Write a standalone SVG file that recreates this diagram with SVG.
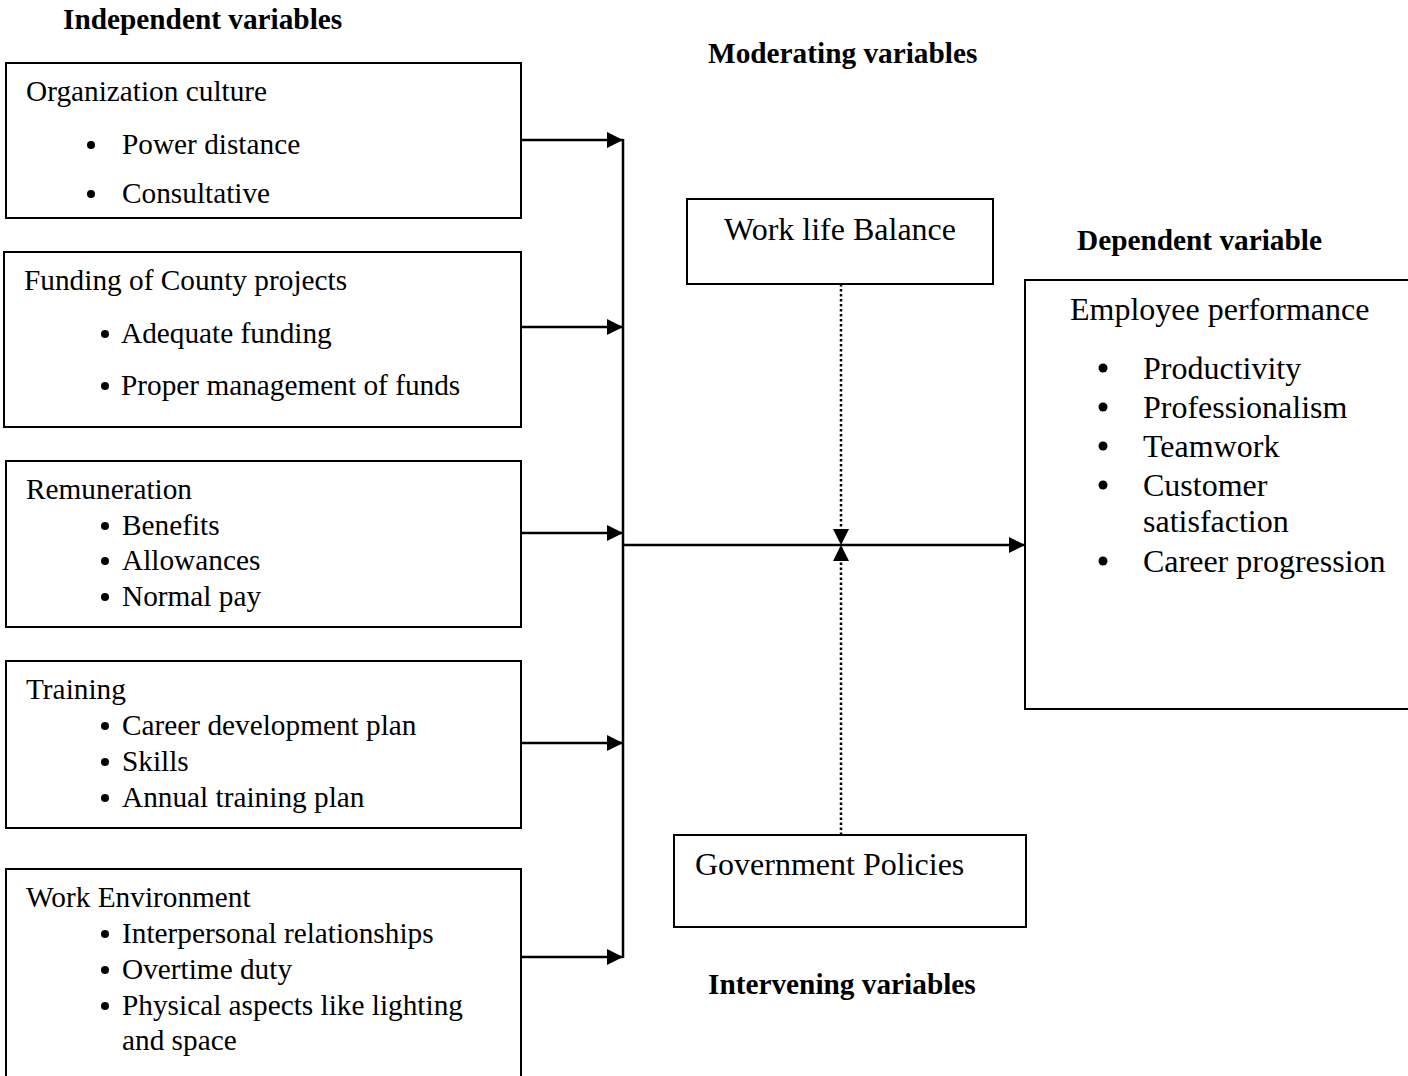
<svg xmlns="http://www.w3.org/2000/svg" width="1408" height="1076" viewBox="0 0 1408 1076">
<style>
.box{fill:#fff;stroke:#000;stroke-width:2}
.t{font-family:"Liberation Serif","Times New Roman",serif;font-size:29.3px;fill:#000}
.tl{font-family:"Liberation Serif","Times New Roman",serif;font-size:32px;fill:#000}
.h{font-family:"Liberation Serif","Times New Roman",serif;font-size:29.3px;font-weight:bold;fill:#000}
.b{fill:#000}
.c{fill:none;stroke:#000;stroke-width:2.5}
.d{fill:none;stroke:#000;stroke-width:2.5;stroke-dasharray:2.5 2.5}
</style>
<defs>
<marker id="ah" markerUnits="userSpaceOnUse" markerWidth="17" markerHeight="17" refX="16" refY="8" orient="auto">
<path d="M0,0 L16,8 L0,16 Z" fill="#000"/>
</marker>
</defs>
<rect width="1408" height="1076" fill="#fff"/>

<g id="headers">
<text class="h" x="63" y="29">Independent variables</text>
<text class="h" x="708" y="63">Moderating variables</text>
<text class="h" x="1077" y="250">Dependent variable</text>
<text class="h" x="708" y="994">Intervening variables</text>
</g>

<g id="organization-culture">
<rect class="box" x="6" y="63" width="515" height="155"/>
<text class="t" x="26" y="101">Organization culture</text>
<circle class="b" cx="91" cy="145" r="4"/>
<text class="t" x="122" y="154">Power distance</text>
<circle class="b" cx="91" cy="194" r="4"/>
<text class="t" x="122" y="203">Consultative</text>
</g>

<g id="funding">
<rect class="box" x="4" y="252" width="517" height="175"/>
<text class="t" x="24" y="290">Funding of County projects</text>
<circle class="b" cx="105" cy="334" r="4"/>
<text class="t" x="121" y="343">Adequate funding</text>
<circle class="b" cx="105" cy="386" r="4"/>
<text class="t" x="121" y="395">Proper management of funds</text>
</g>

<g id="remuneration">
<rect class="box" x="6" y="461" width="515" height="166"/>
<text class="t" x="26" y="499">Remuneration</text>
<circle class="b" cx="105" cy="526" r="4"/>
<text class="t" x="122" y="535">Benefits</text>
<circle class="b" cx="105" cy="561" r="4"/>
<text class="t" x="122" y="570">Allowances</text>
<circle class="b" cx="105" cy="597" r="4"/>
<text class="t" x="122" y="606">Normal pay</text>
</g>

<g id="training">
<rect class="box" x="6" y="661" width="515" height="167"/>
<text class="t" x="26" y="699">Training</text>
<circle class="b" cx="105" cy="726" r="4"/>
<text class="t" x="122" y="735">Career development plan</text>
<circle class="b" cx="105" cy="762" r="4"/>
<text class="t" x="122" y="771">Skills</text>
<circle class="b" cx="105" cy="798" r="4"/>
<text class="t" x="122" y="807">Annual training plan</text>
</g>

<g id="work-environment">
<rect class="box" x="6" y="869" width="515" height="220"/>
<text class="t" x="26" y="907">Work Environment</text>
<circle class="b" cx="105" cy="934" r="4"/>
<text class="t" x="122" y="943">Interpersonal relationships</text>
<circle class="b" cx="105" cy="970" r="4"/>
<text class="t" x="122" y="979">Overtime duty</text>
<circle class="b" cx="105" cy="1006" r="4"/>
<text class="t" x="122" y="1015">Physical aspects like lighting</text>
<text class="t" x="122" y="1050">and space</text>
</g>

<g id="work-life-balance">
<rect class="box" x="687" y="199" width="306" height="85"/>
<text class="tl" x="724" y="240">Work life Balance</text>
</g>

<g id="government-policies">
<rect class="box" x="674" y="835" width="352" height="92"/>
<text class="tl" x="695" y="875">Government Policies</text>
</g>

<g id="employee-performance">
<rect class="box" x="1025" y="280" width="400" height="429"/>
<text class="tl" x="1070" y="320">Employee performance</text>
<circle class="b" cx="1103" cy="368" r="4.5"/>
<text class="tl" x="1143" y="379">Productivity</text>
<circle class="b" cx="1103" cy="407" r="4.5"/>
<text class="tl" x="1143" y="418">Professionalism</text>
<circle class="b" cx="1103" cy="446" r="4.5"/>
<text class="tl" x="1143" y="457">Teamwork</text>
<circle class="b" cx="1103" cy="485" r="4.5"/>
<text class="tl" x="1143" y="496">Customer</text>
<text class="tl" x="1143" y="532">satisfaction</text>
<circle class="b" cx="1103" cy="561" r="4.5"/>
<text class="tl" x="1143" y="572">Career progression</text>
</g>

<g id="connectors">
<line class="c" x1="521" y1="140" x2="623" y2="140" marker-end="url(#ah)"/>
<line class="c" x1="521" y1="327" x2="623" y2="327" marker-end="url(#ah)"/>
<line class="c" x1="521" y1="533" x2="623" y2="533" marker-end="url(#ah)"/>
<line class="c" x1="521" y1="743" x2="623" y2="743" marker-end="url(#ah)"/>
<line class="c" x1="521" y1="957" x2="623" y2="957" marker-end="url(#ah)"/>
<line class="c" x1="623" y1="139" x2="623" y2="958"/>
<line class="c" x1="623" y1="545" x2="1025" y2="545" marker-end="url(#ah)"/>
<line class="d" x1="841" y1="284" x2="841" y2="545" marker-end="url(#ah)"/>
<line class="d" x1="841" y1="835" x2="841" y2="545" marker-end="url(#ah)"/>
</g>
</svg>
